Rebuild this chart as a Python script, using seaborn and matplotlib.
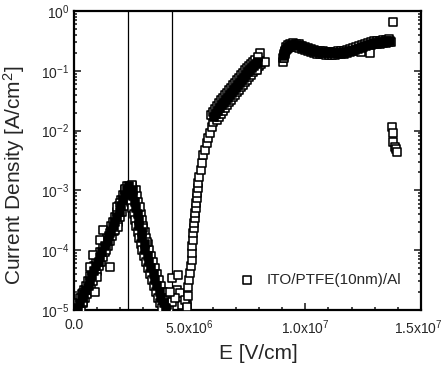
import numpy as np
import pandas as pd
import matplotlib
matplotlib.use("Agg")
import matplotlib.pyplot as plt
import matplotlib.transforms as mtransforms
from matplotlib.ticker import MultipleLocator, LogLocator, NullFormatter
import seaborn as sns

# ---------------- data (E in MV/cm, J in A/cm^2) ----------------
# low-field peak: rising edge (outer traces + dense centre)
peak_up_E_a = [0.086, 0.173, 0.259, 0.346, 0.432, 0.519, 0.605, 0.692, 0.778, 0.865, 0.951, 1.037, 1.124,
               1.254, 1.340, 1.427, 1.513, 1.600, 1.686, 1.772, 1.859, 1.945, 2.032, 2.118, 2.205, 2.291]
peak_up_E_m = [0.19, 0.28, 0.37, 0.45, 0.54, 0.63, 0.71, 0.80, 0.88, 0.97, 1.06, 1.14, 1.23,
               1.36, 1.45, 1.53, 1.62, 1.71, 1.79, 1.88, 1.97, 2.05, 2.14, 2.22, 2.31, 2.39]
peak_up_E_b = [0.30, 0.39, 0.48, 0.56, 0.65, 0.74, 0.82, 0.91, 0.99, 1.08, 1.17, 1.25, 1.34,
               1.47, 1.56, 1.64, 1.73, 1.82, 1.90, 1.99, 2.08, 2.16, 2.25, 2.33, 2.42, 2.49]
peak_up_J = [1.08e-5, 1.31e-5, 1.59e-5, 1.85e-5, 2.16e-5, 2.52e-5, 3.05e-5, 3.71e-5, 4.49e-5, 5.45e-5,
             6.35e-5, 7.69e-5, 9.33e-5, 1.17e-4, 1.43e-4, 1.73e-4, 2.09e-4, 2.54e-4, 2.96e-4, 3.59e-4,
             4.36e-4, 5.48e-4, 6.90e-4, 8.38e-4, 1.02e-3, 1.19e-3]
# low-field peak: falling edge
peak_dn_E_a = [2.378, 2.421, 2.464, 2.507, 2.594, 2.637, 2.680, 2.767, 2.810, 2.896, 2.940, 3.026, 3.112,
               3.199, 3.285, 3.372, 3.458, 3.545, 3.631, 3.718, 3.804]
peak_dn_E_m = [2.53, 2.57, 2.62, 2.66, 2.75, 2.79, 2.83, 2.92, 2.96, 3.05, 3.09, 3.18, 3.26,
               3.35, 3.44, 3.52, 3.61, 3.70, 3.78, 3.87, 3.96]
peak_dn_E_b = [2.680, 2.723, 2.767, 2.810, 2.896, 2.940, 2.983, 3.069, 3.112, 3.199, 3.242, 3.329, 3.415,
               3.501, 3.588, 3.674, 3.761, 3.847, 3.934, 4.020, 4.107]
peak_dn_J = [1.02e-3, 8.05e-4, 6.40e-4, 5.08e-4, 4.03e-4, 3.20e-4, 2.54e-4, 2.01e-4, 1.60e-4, 1.27e-4,
             1.01e-4, 8.00e-5, 6.35e-5, 5.04e-5, 4.00e-5, 3.18e-5, 2.52e-5, 2.00e-5, 1.59e-5, 1.31e-5, 1.08e-5]
# scattered points around the low-field peak and the valley
scatter_E = [0.821, 1.254, 0.692, 0.908, 1.124, 1.556, 1.772, 1.902, 1.859, 1.988, 1.556, 0.994, 0.389,
             0.40, 1.383, 2.853, 2.983, 3.156, 2.49, 2.20,
             3.847, 4.020, 4.236, 4.236, 4.496, 4.452, 4.582, 4.669, 4.885, 4.366, 4.798, 4.150]
scatter_J = [8.3e-5, 2.18e-4, 5.24e-5, 2.0e-5, 1.48e-4, 1.94e-4, 2.18e-4, 2.44e-4, 5.28e-4, 6.15e-4,
             5.24e-5, 3.56e-5, 1.92e-5, 1.38e-5, 1.01e-4, 5.28e-4, 2.35e-4, 1.37e-4, 1.23e-3, 1.05e-3,
             1.47e-5, 1.21e-5, 1.36e-5, 3.43e-5, 3.85e-5, 2.16e-5, 1.92e-5, 1.21e-5, 1.21e-5, 1.59e-5,
             1.47e-5, 2.0e-5]
# steep rise (single trace)
rise_E = [4.87, 4.94, 4.94, 4.97, 5.01, 5.06, 5.09, 5.09, 5.12, 5.16, 5.16, 5.19, 5.19, 5.23, 5.23, 5.27,
          5.27, 5.30, 5.30, 5.34, 5.37, 5.42, 5.48, 5.52, 5.59, 5.66, 5.74, 5.81, 5.88, 5.95, 6.02]
rise_J = [1.14e-5, 1.71e-5, 2.45e-5, 3.18e-5, 4.11e-5, 5.45e-5, 6.86e-5, 8.87e-5, 1.17e-4, 1.48e-4,
          1.92e-4, 2.35e-4, 2.82e-4, 3.45e-4, 4.13e-4, 5.08e-4, 6.08e-4, 7.46e-4, 8.95e-4, 1.10e-3,
          1.31e-3, 1.69e-3, 2.19e-3, 2.84e-3, 3.91e-3, 4.74e-3, 6.14e-3, 7.43e-3, 9.02e-3, 1.16e-2, 1.41e-2]
# thick band up to ~8 MV/cm
band_E_a = [5.93, 6.02, 6.10, 6.19, 6.28, 6.36, 6.45, 6.54, 6.62, 6.71, 6.80, 6.88, 6.97, 7.06, 7.14,
            7.23, 7.32, 7.40, 7.49, 7.57, 7.66, 7.75, 7.83]
band_J_a = [1.81e-2, 2.04e-2, 2.29e-2, 2.57e-2, 2.89e-2, 3.21e-2, 3.54e-2, 3.90e-2, 4.29e-2, 4.73e-2,
            5.21e-2, 5.73e-2, 6.31e-2, 6.94e-2, 7.63e-2, 8.42e-2, 9.27e-2, 0.102, 0.112, 0.121, 0.131,
            0.142, 0.152]
band_E_m = [6.05, 6.14, 6.22, 6.31, 6.40, 6.48, 6.57, 6.66, 6.74, 6.83, 6.92, 7.00, 7.09, 7.18, 7.26,
            7.35, 7.44, 7.52, 7.61, 7.69, 7.78, 7.87, 7.95]
band_J_m = [1.66e-2, 1.87e-2, 2.10e-2, 2.36e-2, 2.65e-2, 2.95e-2, 3.25e-2, 3.58e-2, 3.94e-2, 4.34e-2,
            4.78e-2, 5.26e-2, 5.79e-2, 6.37e-2, 7.01e-2, 7.73e-2, 8.51e-2, 9.38e-2, 0.103, 0.111,
            0.120, 0.130, 0.140]
band_E_b = [6.17, 6.26, 6.34, 6.43, 6.52, 6.60, 6.69, 6.78, 6.86, 6.95, 7.04, 7.12, 7.21, 7.30, 7.38,
            7.47, 7.56, 7.64, 7.73, 7.81, 7.90, 7.99, 8.07]
band_J_b = [1.52e-2, 1.72e-2, 1.93e-2, 2.17e-2, 2.43e-2, 2.71e-2, 2.98e-2, 3.29e-2, 3.62e-2, 3.98e-2,
            4.39e-2, 4.83e-2, 5.32e-2, 5.85e-2, 6.44e-2, 7.10e-2, 7.81e-2, 8.61e-2, 9.46e-2, 0.102,
            0.110, 0.119, 0.129]
jump_E = [8.04, 8.04, 7.90, 8.26, 7.95, 9.05, 9.05]
jump_J = [0.196, 0.142, 0.103, 0.142, 0.170, 0.142, 0.162]
# high-field plateau
plat_E = [9.078, 9.121, 9.164, 9.251, 9.337, 9.467, 9.597, 9.726, 9.856, 9.985, 10.115, 10.245, 10.375,
          10.504, 10.634, 10.764, 10.893, 11.023, 11.153, 11.282, 11.412, 11.542, 11.672, 11.801, 11.931,
          12.061, 12.190, 12.320, 12.450, 12.579, 12.709, 12.839, 12.968, 13.098, 13.228, 13.358, 13.487,
          13.617]
plat_E_mid = [9.10, 9.14, 9.21, 9.29, 9.40, 9.53, 9.66, 9.79, 9.92, 10.05, 10.18, 10.31, 10.44, 10.57,
              10.70, 10.83, 10.96, 11.09, 11.22, 11.35, 11.48, 11.61, 11.74, 11.87, 12.00, 12.13, 12.26,
              12.39, 12.51, 12.64, 12.77, 12.90, 13.03, 13.16, 13.29, 13.42, 13.55, 13.64]
plat_J_hi = [0.188, 0.218, 0.246, 0.270, 0.286, 0.292, 0.286, 0.276, 0.260, 0.250, 0.241, 0.231, 0.223,
             0.218, 0.214, 0.211, 0.208, 0.207, 0.207, 0.208, 0.211, 0.214, 0.218, 0.225, 0.231, 0.241,
             0.250, 0.260, 0.270, 0.281, 0.292, 0.301, 0.310, 0.315, 0.321, 0.328, 0.334, 0.337]
plat_J_mid = [0.177, 0.206, 0.232, 0.255, 0.270, 0.275, 0.270, 0.260, 0.245, 0.236, 0.227, 0.218, 0.210,
              0.206, 0.202, 0.199, 0.196, 0.195, 0.195, 0.196, 0.199, 0.202, 0.206, 0.212, 0.218, 0.227,
              0.236, 0.245, 0.255, 0.265, 0.275, 0.284, 0.292, 0.297, 0.303, 0.309, 0.315, 0.318]
plat_J_lo = [0.167, 0.194, 0.219, 0.241, 0.255, 0.260, 0.255, 0.245, 0.231, 0.223, 0.214, 0.206, 0.198,
             0.194, 0.191, 0.188, 0.185, 0.184, 0.184, 0.185, 0.188, 0.191, 0.194, 0.200, 0.206, 0.214,
             0.223, 0.231, 0.241, 0.250, 0.260, 0.268, 0.276, 0.280, 0.286, 0.292, 0.297, 0.300]
end_E = [12.39, 12.80, 13.69, 13.79, 13.73, 13.78, 13.80, 13.88, 13.92, 13.95]
end_J = [0.204, 0.196, 0.307, 0.662, 1.16e-2, 9.02e-3, 6.52e-3, 5.38e-3, 4.9e-3, 4.44e-3]

vlines_E = [2.33, 4.22]
series_label = "ITO/PTFE(10nm)/Al"
xtick_vals = [0, 5e6, 1e7, 1.5e7]
xtick_labels = ["0.0", r"5.0x10$^{6}$", r"1.0x10$^{7}$", r"1.5x10$^{7}$"]

# open squares: all individually visible measurements
E_open = (peak_up_E_a + peak_up_E_b + peak_dn_E_a + peak_dn_E_b + scatter_E + rise_E
          + band_E_a + band_E_b + jump_E + plat_E + plat_E + end_E)
J_open = (peak_up_J + peak_up_J + peak_dn_J + peak_dn_J + scatter_J + rise_J
          + band_J_a + band_J_b + jump_J + plat_J_hi + plat_J_lo + end_J)
df_open = pd.DataFrame({"E": np.array(E_open) * 1e6, "J": J_open})
# heavily overlapping centre traces (they print as a solid black band)
E_dense = peak_up_E_m + peak_dn_E_m + band_E_m + plat_E_mid
J_dense = peak_up_J + peak_dn_J + band_J_m + plat_J_mid
df_dense = pd.DataFrame({"E": np.array(E_dense) * 1e6, "J": J_dense})

# ---------------- style ----------------
sns.set_style("ticks")
plt.rcParams["font.family"] = ["Liberation Sans", "DejaVu Sans"]
plt.rcParams["mathtext.fontset"] = "custom"
plt.rcParams["mathtext.rm"] = "Liberation Sans"
plt.rcParams["mathtext.it"] = "Liberation Sans:italic"

fig = plt.figure(figsize=(4.42, 3.68), dpi=100)
ax = fig.add_axes([0.1674, 0.1576, 0.785, 0.8124])

for v in vlines_E:
    ax.axvline(v * 1e6, color="black", lw=0.9, zorder=1)

sns.scatterplot(data=df_open, x="E", y="J", marker="s", s=30, facecolor="white", edgecolor="black",
                linewidth=1.15, ax=ax, label=series_label, zorder=3)
sns.scatterplot(data=df_dense, x="E", y="J", marker="s", s=30, facecolor="black", edgecolor="black",
                linewidth=1.15, ax=ax, zorder=4)

ax.set_yscale("log")
ax.set_ylim(1e-5, 1)
ax.set_xlim(0, 1.5e7)
ax.set_xticks(xtick_vals)
ax.set_xticklabels(xtick_labels)
ax.xaxis.set_minor_locator(MultipleLocator(1e6))
ax.yaxis.set_minor_locator(LogLocator(base=10, subs=np.arange(2, 10)))
ax.yaxis.set_minor_formatter(NullFormatter())

ax.tick_params(which="both", direction="in", top=False, right=True, width=1.2, labelsize=10)
ax.tick_params(which="major", length=5)
ax.tick_params(which="minor", length=2.5)
ax.tick_params(axis="x", pad=6)
for s in ax.spines.values():
    s.set_linewidth(1.6)
    s.set_color("black")

# keep the last x tick label inside the image
offsets_px = [0, 0, 0, -3]
for lab, dx in zip(ax.get_xticklabels(), offsets_px):
    lab.set_transform(lab.get_transform() + mtransforms.ScaledTranslation(dx / 100, 0, fig.dpi_scale_trans))

ax.set_xlabel("E [V/cm]", fontsize=15)
ax.set_ylabel(r"Current Density [A/cm$^{2}$]", fontsize=15)
ax.xaxis.set_label_coords(0.53, -0.115)
ax.yaxis.set_label_coords(-0.135, 0.45)

handles, labels = ax.get_legend_handles_labels()
leg = ax.legend(handles[:1], labels[:1], loc="lower right", frameon=False, fontsize=11,
                handletextpad=0.3, markerscale=1.0, borderaxespad=0.3, bbox_to_anchor=(0.975, 0.04))

fig.savefig("out.png", dpi=100)
